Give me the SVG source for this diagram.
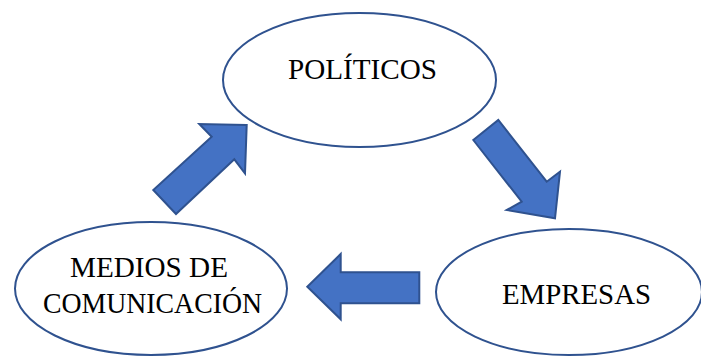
<svg xmlns="http://www.w3.org/2000/svg" width="701" height="356" viewBox="0 0 701 356">
<style>
.node{fill:#fff;stroke:#2F528F;stroke-width:2}
.arrow{fill:#4472C4;stroke:#2F528F;stroke-width:2;stroke-linejoin:miter}
.lbl{font-family:"Liberation Serif","Times New Roman",serif;font-size:29.5px;fill:#000;text-anchor:middle}
</style>
<rect width="701" height="356" fill="#fff"/>
<g id="politicos">
<ellipse class="node" cx="359.5" cy="80" rx="136.5" ry="67"/>
<text class="lbl" x="362.5" y="79" textLength="149" lengthAdjust="spacingAndGlyphs">POLÍTICOS</text>
</g>
<g id="medios">
<ellipse class="node" cx="151" cy="288.5" rx="136" ry="66.5"/>
<text class="lbl" x="149" y="277" textLength="158" lengthAdjust="spacingAndGlyphs">MEDIOS DE</text>
<text class="lbl" x="152.5" y="313" textLength="219" lengthAdjust="spacingAndGlyphs">COMUNICACIÓN</text>
</g>
<g id="empresas">
<ellipse class="node" cx="569" cy="292" rx="133" ry="63"/>
<text class="lbl" x="576.5" y="304" textLength="149" lengthAdjust="spacingAndGlyphs">EMPRESAS</text>
</g>
<g id="connectors">
<polygon class="arrow" points="246.7,125 199.3,124 211.7,136.7 153.3,190 176,214 234.3,159.3 245,173.3"/>
<polygon class="arrow" points="473.3,140 498.3,120 546.7,181.7 560,171.7 555,218.3 506.7,210 521.7,201.7"/>
<polygon class="arrow" points="307.3,286.7 340.7,254 340.7,272.3 419.3,272.3 419.3,303.3 340.7,303.3 340.7,319.3"/>
</g>
</svg>
